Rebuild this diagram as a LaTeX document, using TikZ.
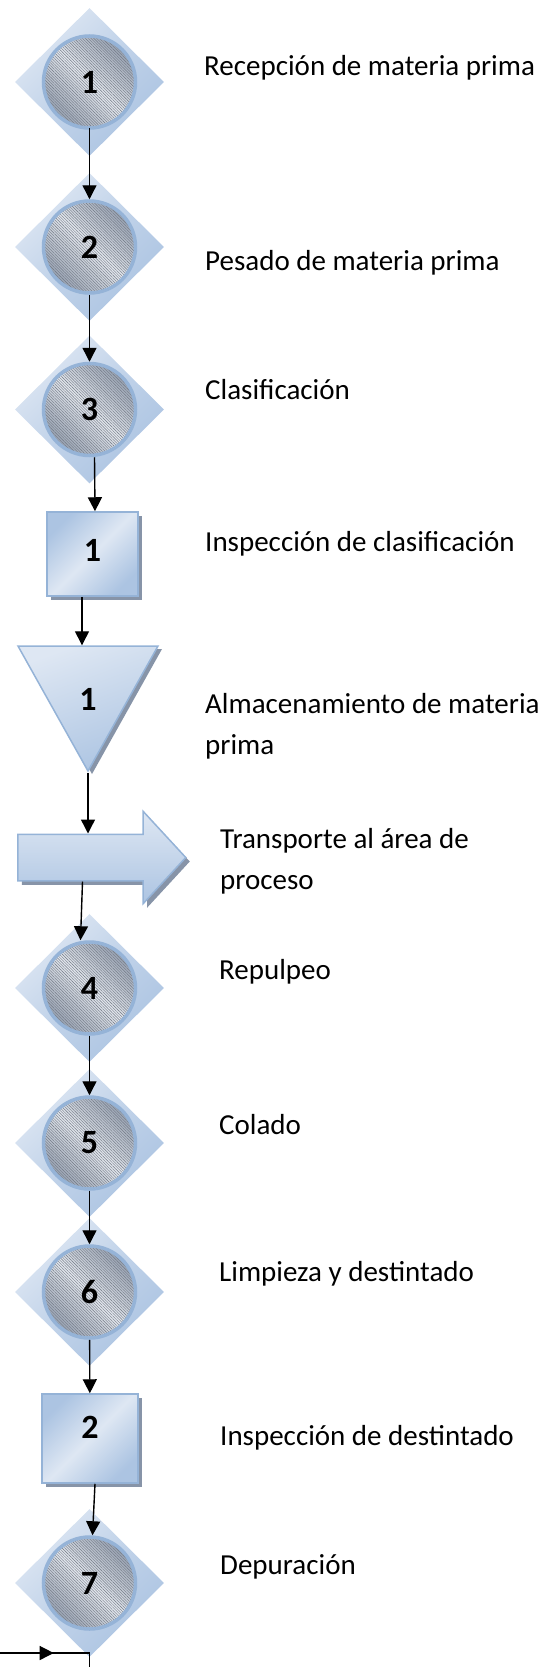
\documentclass[tikz,border=0pt]{standalone}
\usepackage{fontspec}
\setmainfont{Carlito}
\usetikzlibrary{shapes.geometric,shapes.arrows,shadows,patterns.meta,arrows.meta,decorations.markings}

\definecolor{paleblue}{RGB}{222,231,243}
\definecolor{midblue}{RGB}{172,196,226}
\definecolor{edgeblue}{RGB}{149,179,215}
\definecolor{steeldark}{RGB}{150,160,176}
\definecolor{steellight}{RGB}{228,232,238}
\definecolor{shadowgray}{RGB}{135,148,168}

\tikzset{
  flow/.style={-{Triangle[length=14pt,width=14pt]}, line width=1.4pt},
  numfont/.style={font=\fontsize{34}{34}\selectfont\bfseries},
  opdiamond/.style={diamond, minimum width=149pt, minimum height=148pt, inner sep=0pt,
    top color=paleblue, bottom color=midblue, middle color=midblue!60!paleblue, shading angle=45},
  opcircle/.style={circle, minimum size=92pt, inner sep=0pt, draw=edgeblue, line width=3.5pt,
    preaction={top color=steeldark, bottom color=steeldark, middle color=steellight, shading angle=-45},
    pattern={Lines[angle=-45,distance=2pt,line width=0.4pt]}, pattern color=steeldark!75!black, numfont},
  checkbox/.style={rectangle, inner sep=0pt, draw=edgeblue, line width=1.5pt,
    left color=midblue, right color=midblue, middle color=paleblue, shading angle=45,
    drop shadow={shadow xshift=4pt, shadow yshift=-4pt, fill=shadowgray, opacity=1}, numfont},
  storetri/.style={isosceles triangle, shape border rotate=-90, isosceles triangle stretches,
    minimum width=140pt, minimum height=125pt, inner sep=0pt, draw=edgeblue, line width=1.5pt,
    left color=paleblue, right color=midblue, shading angle=20,
    drop shadow={shadow xshift=4pt, shadow yshift=-3pt, fill=shadowgray, opacity=1}, numfont},
  movearrow/.style={single arrow, single arrow head extend=23pt, single arrow tip angle=94.6,
    single arrow head indent=0pt, minimum height=168pt, text height=22.5pt, text depth=22.5pt,
    inner sep=0pt, draw=edgeblue, line width=1.5pt, top color=paleblue, bottom color=midblue,
    drop shadow={shadow xshift=4pt, shadow yshift=-4pt, fill=shadowgray, opacity=1}},
  lbl/.style={anchor=base west, inner sep=0pt, align=left, font=\fontsize{29}{41}\selectfont}
}

\begin{document}
\begin{tikzpicture}[x=1pt, y=-1pt]
  \useasboundingbox (0,0) rectangle (557,1667);

  % Operaciones
  \foreach \n/\y in {1/82,2/247,3/409.5,4/988,5/1143,6/1292,7/1583} {
    \node[opdiamond] (d\n) at (89.5,\y) {};
    \node[opcircle] (c\n) at (89.5,\y) {\n};
  }

  % Inspecciones, almacenamiento y transporte
  \node[checkbox, minimum width=91pt, minimum height=84pt] (s1) at (92.5,554) {\smash{\raisebox{-7pt}{1}}};
  \node[checkbox, minimum width=96pt, minimum height=89pt] (s2) at (90,1438.5) {\smash{\raisebox{0pt}{2}}};
  \node[storetri, anchor=apex] (t1) at (88,773) {\smash{\raisebox{-28pt}{1}}};
  \node[movearrow, anchor=tail] (a1) at (17,857.5) {};

  % Textos
  \node[lbl] (l1) at (204,76) {Recepción de materia prima};
  \node[lbl] (l2) at (205,270) {Pesado de materia prima};
  \node[lbl] (l3) at (205,399) {Clasificación};
  \node[lbl] (l4) at (205,551) {Inspección de clasificación};
  \node[lbl] (l5) at (205,754) {Almacenamiento de materia\\prima};
  \node[lbl] (l6) at (220,889) {Transporte al área de\\proceso};
  \node[lbl] (l7) at (219,979) {Repulpeo};
  \node[lbl] (l8) at (219,1134) {Colado};
  \node[lbl] (l9) at (219,1281) {Limpieza y destintado};
  \node[lbl] (l10) at (220,1445) {Inspección de destintado};
  \node[lbl] (l11) at (220,1574) {Depuración};

  % Flechas
  \draw[flow] (c1) -- (c2);
  \draw[flow] (c2) -- (c3);
  \draw[flow] ([xshift=5pt]c3.south) -- ([xshift=2.5pt]s1.north);
  \draw[flow] ([xshift=-10.5pt]s1.south) -- ([xshift=-10.5pt]s1.south |- t1.north);
  \draw[flow] (t1.apex) -- (t1.apex |- a1.north);
  \draw[flow] ([xshift=-7pt]c4.north |- a1.south) -- ([xshift=-9pt]c4.north);
  \draw[flow] (c4) -- (c5);
  \draw[flow] (c5) -- (c6);
  \draw[flow] (c6) -- (s2);
  \draw[flow] ([xshift=5pt]s2.south) -- ([xshift=3pt]c7.north);

  % Entrada y salida abajo
  \coordinate (feed) at (0,1653);
  \coordinate (join) at (89.5,1653);
  \coordinate (exit) at (89.5,1667);
  \draw[line width=1.4pt, postaction={decorate},
    decoration={markings, mark=at position 0.6 with {\arrow{Triangle[length=14pt,width=14pt]}}}]
    (feed) -- (join);
  \draw[line width=1.4pt] (join) -- (exit);
\end{tikzpicture}
\end{document}
